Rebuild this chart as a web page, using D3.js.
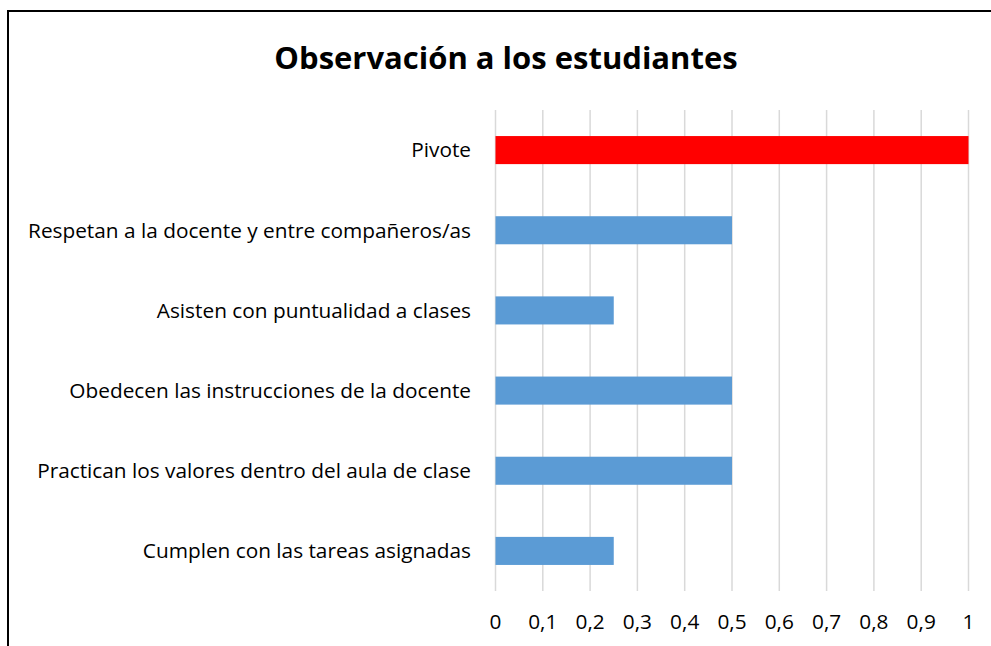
<!DOCTYPE html>
<html>
<head>
<meta charset="utf-8">
<script src="https://cdn.jsdelivr.net/npm/d3@7"></script>
<style>
  body { margin: 0; background: #fff; }
  text { font-family: "Open Sans", "Liberation Sans", sans-serif; fill: #000; }
</style>
</head>
<body>
<div id="chart"></div>
<script>
// data, top to bottom as drawn
const categories = [
    "Pivote",
    "Respetan a la docente y entre compañeros/as",
    "Asisten con puntualidad a clases",
    "Obedecen las instrucciones de la docente",
    "Practican los valores dentro del aula de clase",
    "Cumplen con las tareas asignadas"
];
const values = [1, 0.5, 0.25, 0.5, 0.5, 0.25];
const barColors = ["#ff0000", "#5b9bd5", "#5b9bd5", "#5b9bd5", "#5b9bd5", "#5b9bd5"];
const ticks = [0, 0.1, 0.2, 0.3, 0.4, 0.5, 0.6, 0.7, 0.8, 0.9, 1];

const width = 991, height = 646;

const svg = d3.select("#chart").append("svg")
    .attr("width", width)
    .attr("height", height);

// chart border (only left and top are visible in frame)
svg.append("rect")
    .attr("x", 8).attr("y", 11)
    .attr("width", 1100).attr("height", 800)
    .attr("fill", "none")
    .attr("stroke", "#000")
    .attr("stroke-width", 2);

svg.append("text")
    .attr("x", 506).attr("y", 69)
    .attr("text-anchor", "middle")
    .style("font-size", "31px")
    .style("font-weight", "bold")
    .text("Observación a los estudiantes");

const x = d3.scaleLinear().domain([0, 1]).range([495.5, 968.5]);
const y = d3.scaleBand().domain(categories).range([110, 591]).paddingInner(0.65).paddingOuter(0.325);

// gridlines
svg.append("g").selectAll("line")
    .data(ticks)
    .join("line")
    .attr("x1", d => x(d)).attr("x2", d => x(d))
    .attr("y1", 110).attr("y2", 591)
    .attr("stroke", "#d9d9d9")
    .attr("stroke-width", 1.5);

// bars
svg.append("g").selectAll("rect")
    .data(values)
    .join("rect")
    .attr("x", x(0))
    .attr("y", (d, i) => y(categories[i]))
    .attr("width", d => x(d) - x(0))
    .attr("height", y.bandwidth())
    .attr("fill", (d, i) => barColors[i]);

// category labels
svg.append("g").selectAll("text")
    .data(categories)
    .join("text")
    .attr("x", 471)
    .attr("y", d => y(d) + y.bandwidth() / 2)
    .attr("dy", "0.35em")
    .attr("text-anchor", "end")
    .style("font-size", "20.8px")
    .text(d => d);

// x tick labels
svg.append("g").selectAll("text")
    .data(ticks)
    .join("text")
    .attr("x", d => x(d))
    .attr("y", 622)
    .attr("dy", "0.35em")
    .attr("text-anchor", "middle")
    .style("font-size", "20.8px")
    .text(d => d3.format("")(d).replace(".", ","));
</script>
</body>
</html>
